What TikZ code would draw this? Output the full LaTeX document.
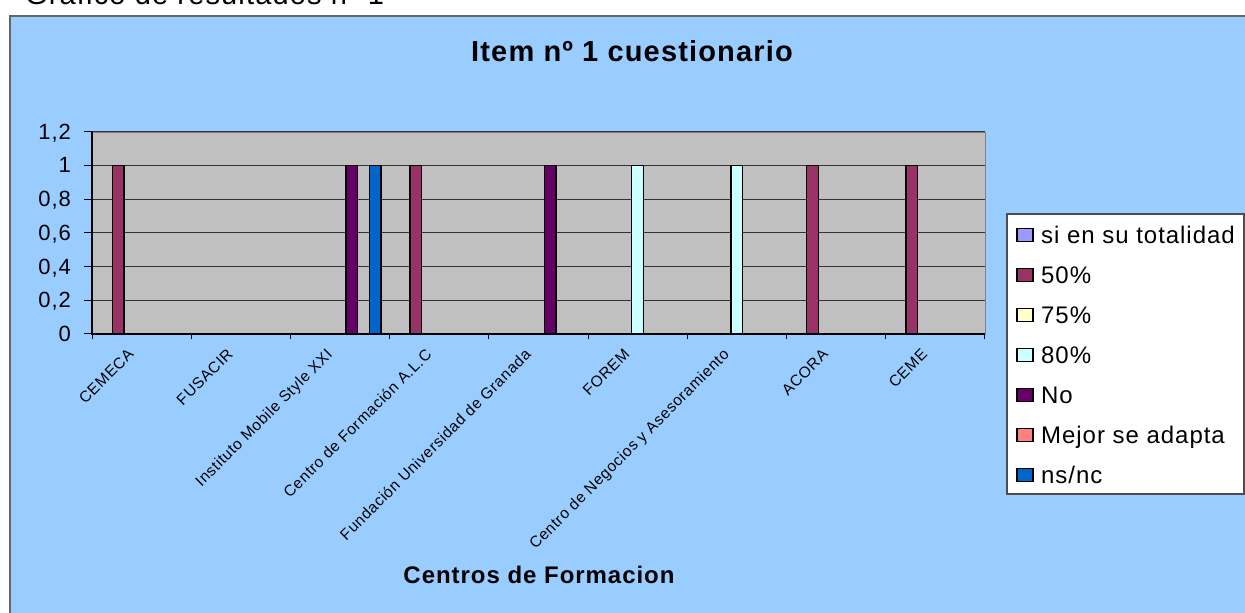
\documentclass[tikz,border=0pt]{standalone}
\usepackage{fontspec}
\setmainfont{Liberation Sans}[LetterSpace=4]

\definecolor{chartblue}{HTML}{99CCFF}
\definecolor{plotgray}{HTML}{C0C0C0}
\definecolor{csi}{HTML}{9999FF}
\definecolor{cfifty}{HTML}{993366}
\definecolor{cseventy}{HTML}{FFFFCC}
\definecolor{ceighty}{HTML}{CCFFFF}
\definecolor{cno}{HTML}{660066}
\definecolor{cmejor}{HTML}{FF8080}
\definecolor{cns}{HTML}{0066CC}

\begin{document}
\begin{tikzpicture}[x = 1pt, y = 1pt,
    bar/.style = {draw = black, line width = 1.4pt},
    keysq/.style = {draw = black, line width = 1.2pt},
    gridline/.style = {black!80, line width = 1pt},
    catlabel/.style = {rotate = 45, anchor = north east, inner sep = 1pt, yshift = -17pt,
        font = \fontsize{15.5}{17}\selectfont},
    vallabel/.style = {anchor = base east, inner sep = 0pt, xshift = -21pt, yshift = -7.5pt,
        font = \fontsize{22}{24}\selectfont},
    legtext/.style = {anchor = base west, inner sep = 0pt, font = \fontsize{24}{26}\selectfont}]
    \useasboundingbox (0, 0) rectangle (1245, 613);
    \fill[white] (0, 0) rectangle (1245, 613);
    \node[anchor = base west, inner sep = 0pt, font = \fontsize{29}{32}\selectfont] (heading) at (25, 608) {Gráfico de resultados nº 1};

    % chart area
    \filldraw[fill = chartblue, draw = black!60, line width = 1.2pt] (10, 597) rectangle (1265, -20);
    \node[anchor = base, font = \fontsize{29}{32}\selectfont\bfseries] (title) at (632, 551) {Item nº 1 cuestionario};
    \node[anchor = base, font = \fontsize{24}{26}\selectfont\bfseries] (xtitle) at (539, 29) {Centros de Formacion};

    \begin{scope}[shift = {(92, 279)}, x = 99.2pt, y = 168.5pt]
        \filldraw[fill = plotgray, draw = black!50] (0, 0) rectangle (9, 1.2);
        \foreach \v/\lab in {0/0, 0.2/{0,2}, 0.4/{0,4}, 0.6/{0,6}, 0.8/{0,8}, 1/1, 1.2/{1,2}}{
            \draw[gridline] (0, \v) -- (9, \v);
            \draw[line width = 1pt] (0, \v) -- ++(-8pt, 0);
            \node[vallabel] (val\v) at (0, \v) {\lab};
        }
        \draw[line width = 1.2pt] (0, 1.2) -- (0, 0) -- (9, 0);
        \foreach \c in {0, ..., 9}
            \draw[line width = 1pt] (\c, 0) -- ++(0, -5pt);

        % bars: category / series / colour
        \foreach \c/\s/\col in {1/2/cfifty, 3/5/cno, 3/7/cns, 4/2/cfifty, 5/5/cno, 6/4/ceighty, 7/4/ceighty, 8/2/cfifty, 9/2/cfifty}{
            \filldraw[bar, fill = \col] ({\c - 0.5 - 3.5*0.118 + (\s - 1)*0.118}, 0) rectangle ++(0.118, 1);
        }

        \foreach \c/\name in {1/CEMECA, 2/FUSACIR, 3/Instituto Mobile Style XXI, 4/Centro de Formación A.L.C,
            5/Fundación Universidad de Granada, 6/FOREM, 7/Centro de Negocios y Asesoramiento, 8/ACORA, 9/CEME}{
            \node[catlabel] (cat\c) at ({\c - 0.77}, 0) {\name};
        }
    \end{scope}

    % legend
    \filldraw[fill = white, draw = black!70, line width = 1.2pt] (1007, 119) rectangle (1244, 399);
    \foreach \i/\col/\lab in {1/csi/si en su totalidad, 2/cfifty/50\%, 3/cseventy/75\%, 4/ceighty/80\%,
        5/cno/No, 6/cmejor/Mejor se adapta, 7/cns/{ns/nc}}{
        \filldraw[keysq, fill = \col] (1017, {418 - 40*\i - 6.5}) rectangle ++(16, 13);
        \node[legtext] (key\i) at (1041, {418 - 40*\i - 8.5}) {\lab};
    }
\end{tikzpicture}
\end{document}
